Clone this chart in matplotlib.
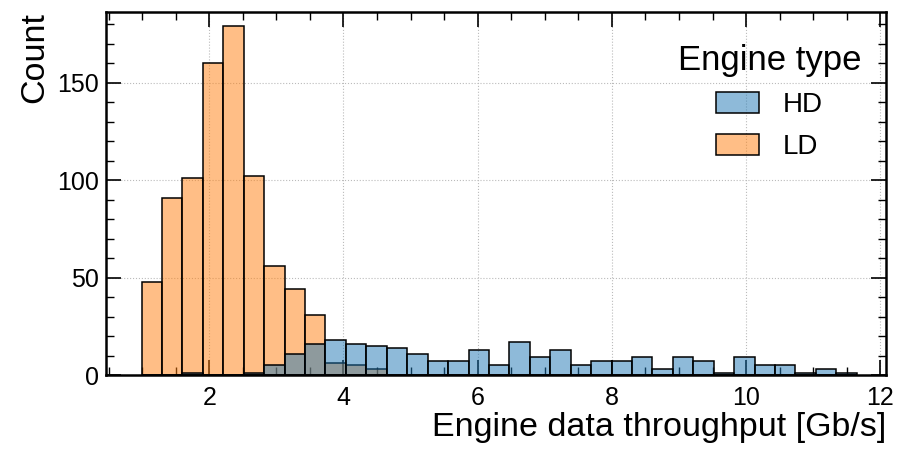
import numpy as np
import matplotlib
matplotlib.use("Agg")
import matplotlib.pyplot as plt
from matplotlib.ticker import MultipleLocator
from matplotlib.patches import Patch

plt.rcParams['font.family'] = ['Liberation Sans', 'DejaVu Sans']

# Histogram bin edges (35 common bins)
bin_lo, bin_hi, n_bins = 0.99, 11.65, 35
edges = np.linspace(bin_lo, bin_hi, n_bins + 1)

hd_counts = [0, 0, 1, 0, 0, 1, 5, 11, 16, 18, 16, 15, 14, 11, 7, 7, 13, 5,
             17, 9, 13, 5, 7, 7, 9, 3, 9, 7, 1, 9, 5, 5, 1, 3, 1]
ld_counts = [48, 91, 101, 160, 179, 102, 56, 44, 31, 6, 5, 3, 0, 0, 0, 0, 0, 0,
             0, 0, 0, 0, 0, 0, 0, 0, 0, 0, 0, 0, 0, 0, 0, 0, 0]

categories = ["HD", "LD"]
colors = {"HD": "#1f77b4", "LD": "#ff7f0e"}
legend_title = "Engine type"
xlabel = "Engine data throughput [Gb/s]"
ylabel = "Count"

fig = plt.figure(figsize=(8.98, 4.54), dpi=100)
ax = fig.add_axes([0.118, 0.174, 0.869, 0.8])

centers = 0.5 * (edges[:-1] + edges[1:])
series = {"HD": hd_counts, "LD": ld_counts}
# draw in reverse order so the first hue level is on top
for name in categories[::-1]:
    ax.hist(centers, bins=edges, weights=series[name],
            facecolor=matplotlib.colors.to_rgba(colors[name], 0.5),
            edgecolor="black", linewidth=1.1, zorder=2)

ax.set_xlim(0.46, 12.09)
ax.set_ylim(0, 186.5)

ax.xaxis.set_major_locator(MultipleLocator(2))
ax.xaxis.set_minor_locator(MultipleLocator(0.5))
ax.yaxis.set_major_locator(MultipleLocator(50))
ax.yaxis.set_minor_locator(MultipleLocator(10))
ax.tick_params(which="both", direction="in", top=True, right=True, labelsize=18)
ax.tick_params(which="major", length=11, width=1.2)
ax.tick_params(which="minor", length=5.5, width=1.0)
ax.tick_params(axis="x", pad=8)
ax.tick_params(axis="y", pad=5)
for s in ax.spines.values():
    s.set_linewidth(1.8)

ax.grid(True, which="major", color="#bbbbbb", linestyle=":", linewidth=0.8, zorder=0)
ax.set_axisbelow(True)

ax.set_xlabel(xlabel, fontsize=24.5, loc="right", labelpad=1)
ax.set_ylabel(ylabel, fontsize=24.5, loc="top", labelpad=5)

handles = [Patch(facecolor=matplotlib.colors.to_rgba(colors[n], 0.5), edgecolor="black",
                 linewidth=1.1, label=n) for n in categories]
leg = ax.legend(handles=handles, title=legend_title, loc="upper right", frameon=False,
                bbox_to_anchor=(1.0, 1.0 - 7 / 363),
                fontsize=20, title_fontsize=25, handlelength=1.55, handleheight=0.8,
                labelspacing=0.55, handletextpad=0.85, borderaxespad=0.3, borderpad=0.6)
leg._legend_box.sep = 11

fig.savefig("out.png", dpi=100)
